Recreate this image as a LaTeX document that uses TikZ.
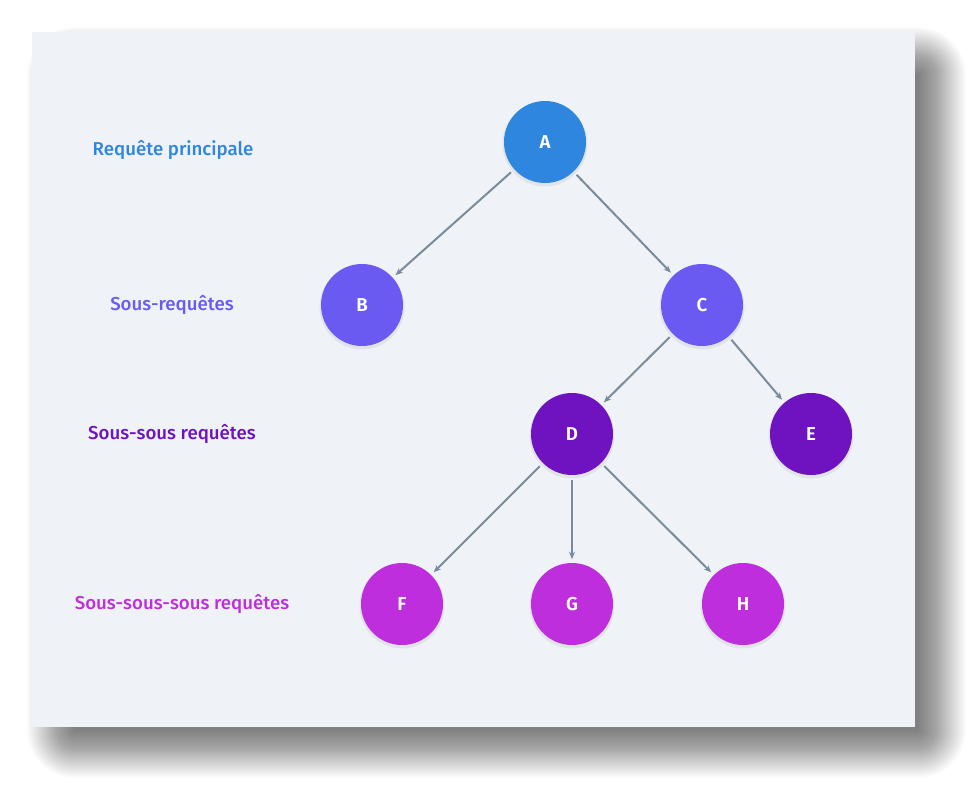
\documentclass[tikz,border=0pt]{standalone}
\usepackage{fontspec}
\setmainfont{Fira Sans}[UprightFont=* Medium, BoldFont=* SemiBold]
\usepackage{tikz}
\usetikzlibrary{arrows.meta}
\definecolor{panelbg}{HTML}{EFF3F7}
\definecolor{edgegray}{HTML}{7A8B99}
\definecolor{lvlone}{HTML}{2E86DE}
\definecolor{lvltwo}{HTML}{6A5AF2}
\definecolor{lvlthree}{HTML}{6F12C0}
\definecolor{lvlfour}{HTML}{BE2EDD}

\begin{document}
\begin{tikzpicture}[x=0.75pt, y=-0.75pt,
       >={Stealth[length=5.5pt,width=4.5pt]}, thick,
       every node/.style={font=\fontsize{14}{17}\selectfont},
       request/.style={circle, minimum size=61.5pt, inner sep=0pt, fill=#1,
                       text=white, font=\fontsize{14}{16}\selectfont\bfseries},
       levellabel/.style={text=#1, anchor=center},
       link/.style={->, draw=edgegray, line width=1.5pt,
                    shorten <=3pt, shorten >=2.5pt}]

	%% Page and panel with a soft shadow
	\useasboundingbox (0,0) rectangle (980,792);
	\fill[white] (0,0) rectangle (980,792);
	\foreach \e in {48,47,...,0}
		\fill[black, opacity=0.013, rounded corners=\e*0.75pt]
		     (75-\e,75-\e) rectangle (918+\e,730+\e);
	\fill[panelbg] (32,32) rectangle (915,727);

	%% Level captions
	\node[levellabel=lvlone]   (capA) at (173,150) {Requête principale};
	\node[levellabel=lvltwo]   (capB) at (172,305) {Sous-requêtes};
	\node[levellabel=lvlthree] (capC) at (172,434) {Sous-sous requêtes};
	\node[levellabel=lvlfour]  (capD) at (182,604) {Sous-sous-sous requêtes};

	%% Request nodes (with a faint shadow below each)
	\foreach \n/\x/\y/\c in {A/545/142/lvlone, B/362/305/lvltwo, C/702/305/lvltwo,
	                          D/572/434/lvlthree, E/811/434/lvlthree,
	                          F/402/604/lvlfour, G/572/604/lvlfour, H/743/604/lvlfour}
		{\fill[black, opacity=0.06] (\x,\y+2) circle (42.5);
		 \node[request=\c] (\n) at (\x,\y) {\n};}

	%% Links between requests
	\foreach \s/\t in {A/B, A/C, C/D, C/E, D/F, D/G, D/H}
		\draw[link] (\s) -- (\t);
\end{tikzpicture}
\end{document}
